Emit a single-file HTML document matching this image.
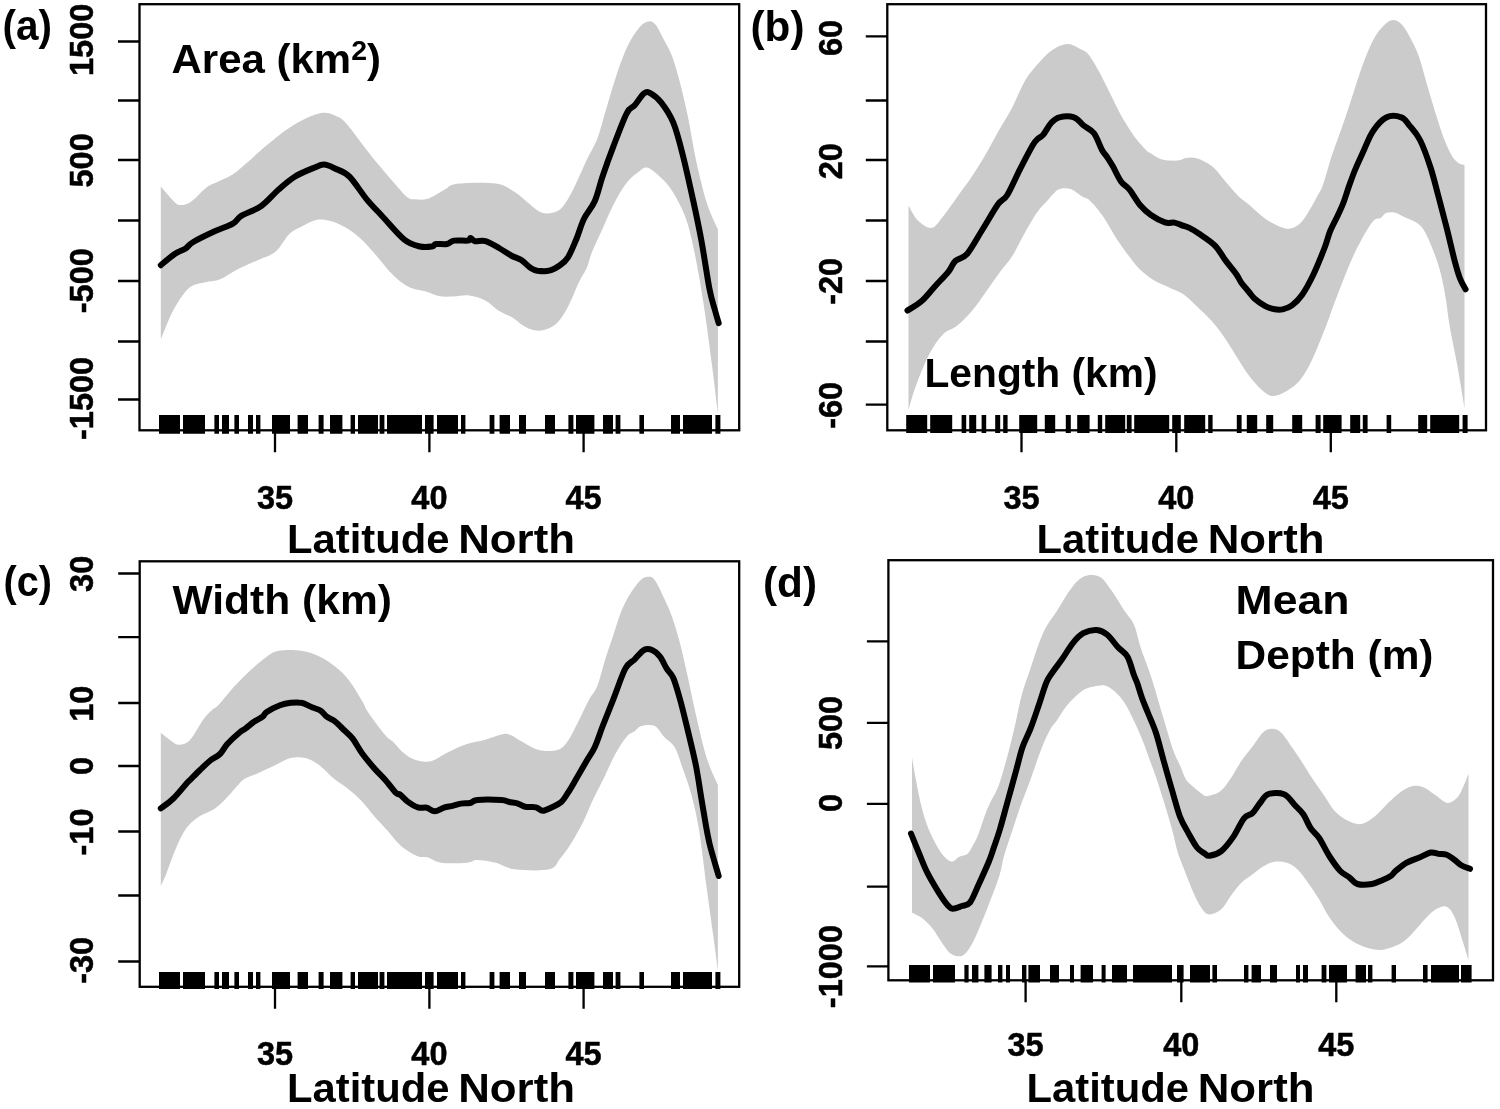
<!DOCTYPE html>
<html lang="en"><head><meta charset="utf-8"><title>GAM smooths by Latitude North</title>
<style>
html,body{margin:0;padding:0;background:#fff}
svg{display:block}
text{font-family:"Liberation Sans",sans-serif;font-weight:bold;fill:#000}
.tk{font-size:32.5px;stroke:#000;stroke-width:.5px}
.pl{font-size:43px}
.lb{font-size:39.8px}
</style></head><body>
<svg width="1500" height="1109" viewBox="0 0 1500 1109">
<rect width="1500" height="1109" fill="#fff"/>
<g id="panel-a">
<path d="M160.8 186.5C162.7 188.6 169.0 196.2 172.0 199.3C175.0 202.4 175.9 204.6 179.0 205.0C182.1 205.4 186.1 204.9 190.7 202.0C195.3 199.1 202.3 190.6 206.7 187.3C211.1 184.0 212.9 184.2 217.3 182.0C221.7 179.8 228.0 177.6 233.3 174.0C238.6 170.4 243.7 165.5 249.3 160.7C254.9 155.9 259.4 151.2 266.7 145.3C274.0 139.4 284.4 130.6 293.3 125.3C302.2 120.0 312.9 114.8 320.0 113.3C327.1 111.8 331.6 114.2 336.0 116.0C340.4 117.8 341.6 118.3 346.7 124.0C351.8 129.7 361.6 143.4 366.7 150.0C371.8 156.6 372.9 158.0 377.3 163.3C381.7 168.6 388.4 176.4 393.3 182.0C398.2 187.6 403.1 193.8 406.7 196.7C410.3 199.6 411.1 199.0 414.7 199.3C418.2 199.7 423.1 200.4 428.0 198.8C432.9 197.2 439.1 192.5 444.0 190.0C448.9 187.5 448.6 184.8 457.3 183.7C466.0 182.6 486.4 182.1 496.0 183.5C505.6 184.9 509.4 188.8 514.7 192.0C520.0 195.2 523.6 199.3 528.0 202.7C532.4 206.1 537.1 210.9 541.3 212.5C545.5 214.1 549.7 213.5 553.3 212.5C556.9 211.5 559.4 210.6 562.7 206.7C566.0 202.8 569.3 197.1 573.3 189.3C577.3 181.5 582.7 168.4 586.7 160.0C590.7 151.6 594.2 146.7 597.3 138.7C600.4 130.7 602.6 120.9 605.3 112.0C608.0 103.1 610.6 93.8 613.3 85.3C616.0 76.8 618.6 68.4 621.3 61.3C624.0 54.2 626.2 48.5 629.3 42.7C632.4 36.9 636.7 30.3 640.0 26.7C643.3 23.1 646.6 21.5 649.3 21.3C652.0 21.1 653.5 22.2 656.0 25.3C658.5 28.4 661.3 34.9 664.0 40.0C666.7 45.1 669.3 48.9 672.0 56.0C674.7 63.1 677.3 72.5 680.0 82.7C682.7 92.9 685.3 104.4 688.0 117.3C690.7 130.2 692.9 145.8 696.0 160.0C699.1 174.2 703.1 191.1 706.7 202.7C710.4 214.2 716.0 224.9 717.9 229.3L717.9 413.3C716.9 405.3 714.3 383.1 712.0 365.3C709.7 347.5 706.7 324.2 704.0 306.7C701.3 289.1 698.7 273.6 696.0 260.0C693.3 246.4 690.7 234.2 688.0 225.0C685.3 215.8 683.1 211.4 680.0 205.0C676.9 198.6 673.3 192.0 669.3 186.7C665.3 181.4 659.8 176.5 656.0 173.3C652.2 170.1 649.4 167.9 646.7 167.5C644.0 167.1 643.3 168.2 640.0 170.7C636.7 173.2 631.2 177.0 626.7 182.7C622.2 188.4 617.4 197.1 613.3 205.0C609.2 212.9 605.5 222.2 602.0 230.0C598.5 237.8 594.5 245.7 592.0 252.0C589.5 258.3 588.9 262.9 586.7 268.0C584.5 273.1 581.8 276.2 578.7 282.7C575.6 289.1 571.6 300.0 568.0 306.7C564.4 313.4 561.3 318.8 557.3 322.7C553.3 326.6 548.0 328.9 544.0 330.1C540.0 331.3 536.8 330.9 533.3 330.1C529.8 329.3 526.2 327.4 522.7 325.3C519.2 323.2 516.0 319.7 512.0 317.3C508.0 314.9 503.1 313.5 498.7 310.7C494.2 307.9 490.2 303.0 485.3 300.5C480.4 298.0 474.6 296.2 469.3 295.5C464.0 294.8 458.4 296.4 453.3 296.5C448.2 296.6 443.4 296.9 438.7 296.0C434.0 295.1 430.2 292.8 425.3 291.3C420.4 289.9 414.6 290.0 409.3 287.3C404.0 284.6 398.6 280.4 393.3 275.3C388.0 270.2 382.6 262.7 377.3 256.7C372.0 250.7 366.6 244.2 361.3 239.3C356.0 234.4 350.6 230.4 345.3 227.3C340.0 224.2 334.2 221.9 329.3 220.7C324.4 219.5 320.4 219.0 316.0 219.9C311.6 220.8 307.1 223.7 302.7 226.0C298.2 228.3 293.8 229.8 289.3 234.0C284.9 238.2 280.9 247.1 276.0 251.3C271.1 255.5 266.2 256.4 260.0 259.3C253.8 262.2 245.4 265.4 238.7 268.7C232.0 272.0 225.3 277.1 220.0 279.3C214.7 281.5 211.4 280.9 206.7 282.0C202.0 283.1 196.0 283.8 192.0 286.0C188.0 288.2 186.0 290.9 182.7 295.3C179.4 299.8 175.7 305.4 172.0 312.7C168.3 320.0 162.7 334.9 160.8 339.3Z" fill="#cbcbcb"/>
<path d="M160.8 265.2C163.1 263.3 170.6 256.8 174.7 254.0C178.8 251.2 182.2 250.7 185.3 248.7C188.4 246.7 188.4 244.9 193.3 242.0C198.2 239.1 208.0 234.4 214.7 231.3C221.4 228.2 228.9 225.9 233.3 223.3C237.7 220.7 236.6 218.8 241.3 215.9C246.0 213.0 255.1 210.4 261.3 206.0C267.5 201.6 273.1 194.4 278.7 189.5C284.3 184.6 288.9 180.3 294.7 176.7C300.5 173.1 308.4 170.1 313.3 168.1C318.2 166.1 320.4 164.5 324.0 164.6C327.6 164.7 330.8 166.5 335.0 168.5C339.2 170.5 344.0 171.4 349.3 176.5C354.6 181.6 361.1 192.6 366.7 199.3C372.3 206.0 376.5 210.0 382.7 216.7C388.9 223.4 397.8 234.3 404.0 239.3C410.2 244.3 415.3 245.3 420.0 246.5C424.7 247.7 429.3 246.9 432.0 246.5C434.7 246.1 433.5 244.4 436.0 244.0C438.5 243.6 444.0 244.6 447.0 244.0C450.0 243.4 450.5 241.2 454.0 240.6C457.5 240.0 465.2 241.0 468.0 240.6C470.8 240.2 469.5 237.9 470.7 238.0C471.9 238.1 472.5 240.7 475.0 241.2C477.5 241.7 481.5 240.1 485.5 241.2C489.5 242.3 494.6 245.5 499.0 248.0C503.4 250.5 508.3 254.0 512.0 256.0C515.7 258.0 518.2 258.0 521.3 260.0C524.4 262.0 528.0 266.2 530.7 268.0C533.4 269.8 534.2 270.2 537.3 270.7C540.4 271.1 545.5 271.6 549.3 270.7C553.1 269.8 556.9 267.5 560.0 265.3C563.1 263.1 565.3 261.5 568.0 257.3C570.7 253.1 573.3 246.4 576.0 240.0C578.7 233.6 580.9 225.1 584.0 218.7C587.1 212.2 591.6 208.4 594.7 201.3C597.8 194.2 599.6 185.1 602.7 176.0C605.8 166.9 609.3 157.1 613.3 146.7C617.3 136.2 623.1 120.2 626.7 113.3C630.3 106.4 631.8 108.6 634.7 105.3C637.6 102.0 641.3 95.3 644.0 93.3C646.7 91.3 647.8 91.7 650.7 93.3C653.6 94.9 657.5 97.8 661.3 102.7C665.1 107.6 669.7 114.0 673.3 122.7C676.9 131.4 679.4 141.6 682.7 154.7C686.0 167.8 690.2 186.8 693.3 201.0C696.4 215.2 698.6 225.5 701.3 240.0C704.0 254.5 707.1 276.4 709.3 288.0C711.5 299.6 713.1 303.4 714.7 309.3C716.3 315.2 718.0 320.9 718.7 323.2" fill="none" stroke="#000" stroke-width="6.0" stroke-linejoin="round" stroke-linecap="round"/>
<path d="M159.0 415H180.0V433.7H159.0ZM183.0 415H205.0V433.7H183.0ZM214.4 415H219.0V433.7H214.4ZM222.0 415H229.0V433.7H222.0ZM234.4 415H239.0V433.7H234.4ZM248.0 415H253.0V433.7H248.0ZM256.0 415H260.4V433.7H256.0ZM272.0 415H290.0V433.7H272.0ZM297.6 415H308.0V433.7H297.6ZM318.6 415H323.6V433.7H318.6ZM330.0 415H342.4V433.7H330.0ZM350.6 415H355.0V433.7H350.6ZM358.0 415H378.0V433.7H358.0ZM379.6 415H384.4V433.7H379.6ZM387.0 415H422.0V433.7H387.0ZM425.0 415H433.6V433.7H425.0ZM437.0 415H458.0V433.7H437.0ZM461.0 415H465.4V433.7H461.0ZM489.6 415H494.4V433.7H489.6ZM499.6 415H510.0V433.7H499.6ZM519.0 415H526.0V433.7H519.0ZM545.0 415H555.0V433.7H545.0ZM568.4 415H573.4V433.7H568.4ZM576.0 415H594.4V433.7H576.0ZM603.0 415H613.0V433.7H603.0ZM615.6 415H620.4V433.7H615.6ZM639.4 415H644.0V433.7H639.4ZM671.0 415H680.0V433.7H671.0ZM683.0 415H712.0V433.7H683.0ZM715.4 415H720.4V433.7H715.4Z" fill="#000"/>
<rect x="139.5" y="4.2" width="599.7" height="426.1" fill="none" stroke="#000" stroke-width="2.3"/>
<path d="M139.5 41.5h-21.5M139.5 100.5h-21.5M139.5 160h-21.5M139.5 220.5h-21.5M139.5 281h-21.5M139.5 341.5h-21.5M139.5 399.5h-21.5M275 430.3v22M429.4 430.3v22M583.6 430.3v22" stroke="#000" stroke-width="2.3" fill="none"/>
<text class="tk" transform="translate(92.5 39.8) rotate(-90)" text-anchor="middle">1500</text>
<text class="tk" transform="translate(92.5 160.4) rotate(-90)" text-anchor="middle">500</text>
<text class="tk" transform="translate(92.5 280.7) rotate(-90)" text-anchor="middle">-500</text>
<text class="tk" transform="translate(92.5 398.4) rotate(-90)" text-anchor="middle">-1500</text>
<text class="tk" x="275" y="508.9" text-anchor="middle">35</text>
<text class="tk" x="429.4" y="508.9" text-anchor="middle">40</text>
<text class="tk" x="583.6" y="508.9" text-anchor="middle">45</text>
</g>
<g id="panel-b">
<path d="M908.5 205.5C910.0 207.9 913.7 216.2 917.5 220.0C921.3 223.8 927.1 228.5 931.3 228.0C935.5 227.5 937.9 222.8 942.7 217.0C947.5 211.2 955.2 199.6 960.0 193.0C964.8 186.4 967.2 183.5 971.3 177.3C975.4 171.1 980.2 163.6 984.7 156.0C989.2 148.4 993.6 139.8 998.0 132.0C1002.4 124.2 1006.8 117.8 1011.3 109.3C1015.8 100.8 1020.5 88.6 1024.7 81.3C1028.9 74.0 1032.3 70.4 1036.7 65.3C1041.1 60.2 1046.2 54.2 1051.3 50.7C1056.4 47.2 1062.4 44.2 1067.3 44.0C1072.2 43.8 1077.1 47.5 1080.7 49.3C1084.3 51.1 1085.6 50.9 1088.7 54.7C1091.8 58.5 1095.8 65.6 1099.3 72.0C1102.8 78.4 1106.4 86.2 1110.0 93.3C1113.6 100.4 1116.7 107.6 1120.7 114.7C1124.7 121.8 1129.8 130.1 1134.0 136.0C1138.2 141.9 1143.2 147.1 1146.0 150.0C1148.8 152.9 1148.0 151.7 1150.7 153.3C1153.4 154.9 1157.5 158.3 1162.0 159.5C1166.5 160.7 1174.0 160.8 1178.0 160.5C1182.0 160.2 1182.9 158.4 1186.0 158.0C1189.1 157.6 1192.3 156.9 1196.7 158.3C1201.1 159.7 1207.6 162.7 1212.4 166.5C1217.2 170.3 1220.9 176.3 1225.3 181.3C1229.7 186.3 1234.6 192.5 1238.7 196.5C1242.8 200.5 1245.6 201.8 1250.0 205.5C1254.4 209.2 1260.3 215.2 1265.3 218.7C1270.3 222.2 1275.8 225.1 1280.0 226.7C1284.2 228.3 1287.0 229.2 1290.5 228.5C1294.0 227.8 1297.8 225.7 1301.0 222.5C1304.2 219.3 1307.4 213.5 1310.0 209.3C1312.6 205.1 1314.5 201.5 1316.7 197.3C1318.9 193.1 1320.8 191.1 1323.3 184.0C1325.8 176.9 1328.8 164.8 1332.0 155.0C1335.2 145.2 1339.2 135.6 1342.7 125.3C1346.2 115.0 1349.8 104.0 1353.3 93.3C1356.8 82.6 1360.4 70.6 1364.0 61.3C1367.6 52.0 1371.2 43.5 1374.7 37.3C1378.2 31.1 1382.2 26.9 1385.3 24.0C1388.4 21.1 1390.6 20.0 1393.3 20.0C1396.0 20.0 1398.6 21.3 1401.3 24.0C1404.0 26.7 1406.4 30.7 1409.3 36.0C1412.2 41.3 1415.6 47.3 1418.7 56.0C1421.8 64.7 1425.1 78.2 1428.0 88.0C1430.9 97.8 1433.3 106.2 1436.0 114.7C1438.7 123.2 1441.3 131.8 1444.0 138.7C1446.7 145.6 1449.5 151.9 1452.0 156.0C1454.5 160.1 1456.6 161.7 1458.7 163.2C1460.8 164.7 1463.5 164.5 1464.5 164.8L1464.5 408.0C1463.3 400.9 1459.7 378.6 1457.3 365.3C1454.9 352.0 1451.9 338.9 1450.0 328.0C1448.1 317.1 1447.3 308.2 1446.0 300.0C1444.7 291.8 1443.5 285.4 1442.0 278.7C1440.5 272.0 1438.7 266.0 1436.7 260.0C1434.7 254.0 1432.2 247.8 1430.0 242.7C1427.8 237.6 1425.5 232.6 1423.3 229.3C1421.1 226.0 1419.8 224.7 1416.7 222.7C1413.6 220.7 1408.3 219.0 1404.7 217.3C1401.1 215.6 1398.4 213.4 1395.3 212.7C1392.2 212.0 1388.4 212.2 1386.0 213.1C1383.6 214.0 1382.5 217.0 1380.7 218.0C1378.9 219.0 1377.1 218.1 1375.3 219.3C1373.5 220.5 1372.2 222.1 1370.0 225.3C1367.8 228.5 1364.9 233.4 1362.0 238.7C1359.1 244.0 1355.8 250.4 1352.7 257.3C1349.6 264.2 1346.4 272.2 1343.3 280.0C1340.2 287.8 1337.0 296.0 1334.0 304.0C1331.0 312.0 1329.0 318.7 1325.3 328.0C1321.6 337.3 1316.1 351.4 1312.0 360.0C1307.9 368.6 1304.6 374.4 1300.5 379.5C1296.4 384.6 1292.0 387.8 1287.5 390.5C1283.0 393.2 1277.4 396.0 1273.3 396.0C1269.2 396.0 1266.7 394.0 1262.7 390.7C1258.7 387.4 1253.3 381.1 1249.3 376.0C1245.3 370.9 1242.7 366.2 1238.7 360.0C1234.7 353.8 1229.8 345.1 1225.3 338.7C1220.8 332.2 1216.9 326.8 1212.0 321.3C1207.1 315.8 1200.8 310.1 1196.0 305.5C1191.2 300.9 1187.7 297.1 1183.0 294.0C1178.3 290.9 1172.9 289.3 1168.0 287.0C1163.1 284.7 1158.2 282.9 1153.5 280.0C1148.8 277.1 1143.9 273.2 1140.0 269.5C1136.1 265.8 1133.9 262.6 1130.0 257.5C1126.1 252.4 1121.2 245.8 1116.7 239.0C1112.2 232.2 1107.8 223.1 1103.3 216.7C1098.8 210.3 1093.5 204.1 1090.0 200.7C1086.5 197.3 1085.1 198.4 1082.0 196.5C1078.9 194.6 1075.2 190.4 1071.3 189.2C1067.4 188.0 1062.5 187.6 1058.5 189.5C1054.5 191.4 1050.9 196.9 1047.3 200.7C1043.7 204.5 1040.7 207.2 1037.0 212.5C1033.3 217.8 1029.2 225.2 1025.0 232.5C1020.8 239.8 1016.2 249.9 1012.0 256.5C1007.8 263.1 1004.2 266.2 1000.0 272.0C995.8 277.8 991.0 284.7 986.5 291.0C982.0 297.3 977.7 304.2 972.7 310.0C967.7 315.8 961.6 322.0 956.7 326.0C951.8 330.0 947.8 329.6 943.3 334.0C938.8 338.4 934.0 345.6 930.0 352.7C926.0 359.8 922.2 369.6 919.3 376.7C916.4 383.8 914.5 389.8 912.7 395.3C910.9 400.9 909.2 407.6 908.5 410.0Z" fill="#cbcbcb"/>
<path d="M907.5 310.5C909.9 308.9 917.4 304.8 922.0 300.7C926.6 296.6 930.8 290.9 935.3 286.0C939.8 281.1 945.4 275.5 948.7 271.3C952.0 267.1 952.2 263.9 955.3 261.0C958.4 258.1 962.8 258.9 967.3 253.7C971.8 248.4 977.4 237.7 982.5 229.5C987.6 221.3 993.9 210.1 998.0 204.3C1002.1 198.6 1003.7 200.8 1007.3 195.0C1010.9 189.2 1015.6 178.0 1019.8 169.7C1024.0 161.4 1029.7 150.5 1032.7 145.3C1035.7 140.1 1036.2 140.5 1038.0 138.7C1039.8 136.9 1041.1 137.4 1043.3 134.7C1045.5 132.0 1048.6 125.6 1051.3 122.7C1054.0 119.8 1055.5 118.2 1059.3 117.3C1063.1 116.4 1070.0 116.0 1074.0 117.3C1078.0 118.6 1080.0 122.6 1083.3 125.3C1086.6 128.0 1090.9 129.2 1094.0 133.3C1097.1 137.4 1099.8 146.0 1102.0 150.0C1104.2 154.0 1105.5 154.6 1107.3 157.3C1109.1 160.0 1110.4 162.0 1112.7 166.0C1115.0 170.0 1118.2 177.6 1121.0 181.5C1123.8 185.4 1126.3 185.7 1129.5 189.6C1132.7 193.5 1136.4 200.8 1140.0 205.0C1143.6 209.2 1146.7 212.1 1150.9 215.0C1155.1 217.9 1161.1 221.1 1165.0 222.4C1168.9 223.7 1171.6 222.1 1174.4 222.6C1177.2 223.1 1179.5 224.5 1182.0 225.4C1184.5 226.3 1186.4 226.5 1189.3 227.9C1192.2 229.3 1195.2 231.1 1199.5 234.0C1203.8 236.9 1210.7 241.2 1215.0 245.6C1219.3 250.0 1221.9 255.6 1225.5 260.4C1229.1 265.2 1233.9 270.8 1236.5 274.5C1239.1 278.2 1239.2 279.8 1241.3 282.7C1243.4 285.6 1246.8 289.3 1249.0 292.0C1251.2 294.7 1252.0 296.3 1254.7 298.7C1257.4 301.1 1262.0 304.3 1265.3 306.1C1268.6 307.9 1271.8 308.8 1274.7 309.3C1277.6 309.8 1279.8 310.0 1282.7 309.3C1285.6 308.6 1288.8 307.7 1292.0 305.3C1295.2 302.9 1298.5 300.1 1302.0 295.0C1305.5 289.9 1309.5 282.6 1313.3 274.7C1317.1 266.8 1321.9 254.7 1324.7 247.5C1327.5 240.3 1327.8 236.9 1330.0 231.5C1332.2 226.1 1335.8 219.8 1338.0 215.0C1340.2 210.2 1341.5 207.7 1343.3 203.0C1345.1 198.3 1346.8 192.5 1348.7 187.0C1350.7 181.5 1352.5 176.2 1355.0 170.0C1357.5 163.8 1361.0 156.6 1364.0 150.0C1367.0 143.4 1369.5 136.1 1373.3 130.7C1377.1 125.2 1382.0 119.5 1386.7 117.3C1391.4 115.1 1397.5 116.0 1401.3 117.3C1405.1 118.6 1406.2 121.5 1409.3 125.3C1412.4 129.1 1416.4 132.9 1420.0 140.0C1423.6 147.1 1427.6 158.4 1430.7 168.0C1433.8 177.6 1436.0 187.3 1438.7 197.3C1441.4 207.3 1444.0 217.4 1446.7 228.0C1449.4 238.6 1452.5 252.6 1454.7 261.0C1456.9 269.4 1458.2 273.8 1460.0 278.5C1461.8 283.2 1464.7 287.5 1465.6 289.3" fill="none" stroke="#000" stroke-width="6.0" stroke-linejoin="round" stroke-linecap="round"/>
<path d="M906.2 415H927.2V433H906.2ZM930.2 415H952.2V433H930.2ZM961.6 415H966.2V433H961.6ZM969.2 415H976.2V433H969.2ZM981.6 415H986.2V433H981.6ZM995.2 415H1000.2V433H995.2ZM1003.2 415H1007.6V433H1003.2ZM1019.2 415H1037.2V433H1019.2ZM1044.8 415H1055.2V433H1044.8ZM1065.8 415H1070.8V433H1065.8ZM1077.2 415H1089.6V433H1077.2ZM1097.8 415H1102.2V433H1097.8ZM1105.2 415H1125.2V433H1105.2ZM1126.8 415H1131.6V433H1126.8ZM1134.2 415H1169.2V433H1134.2ZM1172.2 415H1180.8V433H1172.2ZM1184.2 415H1205.2V433H1184.2ZM1208.2 415H1212.6V433H1208.2ZM1236.8 415H1241.6V433H1236.8ZM1246.8 415H1257.2V433H1246.8ZM1266.2 415H1273.2V433H1266.2ZM1292.2 415H1302.2V433H1292.2ZM1315.6 415H1320.6V433H1315.6ZM1323.2 415H1341.6V433H1323.2ZM1350.2 415H1360.2V433H1350.2ZM1362.8 415H1367.6V433H1362.8ZM1386.6 415H1391.2V433H1386.6ZM1418.2 415H1427.2V433H1418.2ZM1430.2 415H1459.2V433H1430.2ZM1462.6 415H1467.6V433H1462.6Z" fill="#000"/>
<rect x="887.3" y="4.2" width="598.7" height="426.1" fill="none" stroke="#000" stroke-width="2.3"/>
<path d="M887.3 36.4h-21.5M887.3 100.5h-21.5M887.3 160h-21.5M887.3 220.5h-21.5M887.3 281h-21.5M887.3 341.5h-21.5M887.3 404.7h-21.5M1021.5 430.3v22M1176.3 430.3v22M1330.8 430.3v22" stroke="#000" stroke-width="2.3" fill="none"/>
<text class="tk" transform="translate(841.5 37.9) rotate(-90)" text-anchor="middle">60</text>
<text class="tk" transform="translate(841.5 161.2) rotate(-90)" text-anchor="middle">20</text>
<text class="tk" transform="translate(841.5 281.3) rotate(-90)" text-anchor="middle">-20</text>
<text class="tk" transform="translate(841.5 405.3) rotate(-90)" text-anchor="middle">-60</text>
<text class="tk" x="1021.5" y="508.9" text-anchor="middle">35</text>
<text class="tk" x="1176.3" y="508.9" text-anchor="middle">40</text>
<text class="tk" x="1330.8" y="508.9" text-anchor="middle">45</text>
</g>
<g id="panel-c">
<path d="M160.8 732.7C162.5 734.0 168.0 738.7 171.0 740.7C174.0 742.7 175.8 744.8 179.0 744.7C182.2 744.6 185.9 744.1 190.0 739.9C194.1 735.7 199.6 724.5 203.3 719.5C207.0 714.5 209.4 712.5 212.0 710.0C214.6 707.5 214.9 708.7 218.7 704.7C222.5 700.7 229.4 691.8 234.7 686.0C240.0 680.2 245.4 674.9 250.7 670.0C256.0 665.1 262.0 659.9 266.7 656.7C271.4 653.5 272.9 651.8 278.7 650.8C284.5 649.8 294.4 649.8 301.3 650.8C308.2 651.8 314.2 654.0 320.0 656.7C325.8 659.5 331.1 663.3 336.0 667.3C340.9 671.3 344.9 674.9 349.3 680.7C353.8 686.5 359.8 697.1 362.7 702.0C365.6 706.9 364.6 706.7 366.7 710.0C368.8 713.3 371.7 717.5 375.0 722.0C378.3 726.5 383.6 733.4 386.7 736.7C389.8 740.0 391.1 739.9 393.3 742.0C395.5 744.1 397.4 747.0 400.0 749.5C402.6 752.0 405.3 754.7 408.7 756.7C412.1 758.7 416.5 760.6 420.5 761.3C424.5 762.0 428.1 762.1 432.5 760.7C436.9 759.3 441.2 755.5 447.0 752.7C452.8 749.9 460.8 746.1 467.0 744.0C473.2 741.9 478.8 741.5 484.5 739.9C490.2 738.3 497.2 735.4 501.3 734.5C505.4 733.6 505.7 733.2 509.3 734.5C512.9 735.8 517.8 739.4 522.7 742.0C527.6 744.6 532.9 748.7 538.7 750.0C544.5 751.3 552.4 751.5 557.3 750.0C562.2 748.5 564.4 745.6 568.0 740.7C571.6 735.8 575.2 727.6 578.7 720.7C582.2 713.8 586.2 705.1 589.3 699.3C592.4 693.5 594.6 692.7 597.3 686.0C600.0 679.3 602.6 667.8 605.3 659.3C608.0 650.8 610.6 643.3 613.3 635.3C616.0 627.3 618.6 618.0 621.3 611.3C624.0 604.6 626.2 600.4 629.3 595.3C632.4 590.2 636.9 583.8 640.0 580.7C643.1 577.6 645.5 576.8 648.0 576.7C650.5 576.6 652.0 576.4 654.7 579.9C657.4 583.4 661.1 591.9 664.0 598.0C666.9 604.1 669.3 609.2 672.0 616.7C674.7 624.2 677.3 633.1 680.0 643.3C682.7 653.5 685.3 666.0 688.0 678.0C690.7 690.0 692.9 702.0 696.0 715.3C699.1 728.6 703.1 746.4 706.7 758.0C710.4 769.6 716.0 780.5 717.9 785.0L717.9 970.7C717.1 964.9 715.2 949.8 713.3 936.0C711.4 922.2 709.1 906.0 706.7 888.0C704.3 870.0 701.4 844.0 698.7 828.0C696.0 812.0 693.4 802.2 690.7 792.3C688.0 782.4 685.4 775.9 682.7 768.4C680.0 760.9 677.8 752.6 674.7 747.3C671.6 742.0 667.3 740.2 664.0 736.7C660.7 733.2 658.5 727.8 654.7 726.0C650.9 724.2 644.6 725.1 641.3 726.0C638.0 726.9 637.1 729.5 634.7 731.3C632.3 733.1 629.8 733.1 626.7 736.7C623.6 740.3 619.8 745.9 616.0 752.7C612.2 759.5 607.8 770.0 604.0 777.7C600.2 785.4 596.9 791.5 593.3 799.0C589.7 806.5 586.4 815.5 582.6 823.0C578.8 830.5 574.5 838.0 570.7 844.0C566.9 850.0 563.6 854.5 560.0 858.7C556.4 862.9 556.8 867.5 549.3 869.3C541.8 871.1 523.6 870.4 514.7 869.3C505.8 868.2 502.2 864.2 496.0 862.7C489.8 861.2 482.2 860.0 477.3 860.0C472.4 860.0 472.7 862.2 466.7 862.7C460.7 863.2 447.8 863.7 441.3 862.8C434.9 861.9 432.1 858.6 428.0 857.5C423.9 856.4 421.5 857.9 417.0 856.0C412.5 854.1 405.8 850.1 401.0 846.0C396.2 841.9 392.4 836.2 388.0 831.3C383.6 826.4 379.1 821.8 374.7 816.7C370.2 811.6 365.8 805.4 361.3 800.7C356.9 796.0 352.4 792.3 348.0 788.7C343.6 785.1 339.6 783.3 334.7 779.3C329.8 775.3 323.6 768.2 318.7 764.7C313.8 761.2 310.0 759.1 305.3 758.0C300.6 756.9 294.7 757.3 290.7 758.0C286.7 758.7 284.6 760.5 281.3 762.0C278.0 763.5 274.7 765.4 270.7 767.3C266.7 769.2 261.8 771.5 257.3 773.5C252.9 775.5 247.6 777.0 244.0 779.3C240.4 781.6 239.1 784.0 236.0 787.3C232.9 790.6 228.9 795.7 225.3 799.3C221.8 802.9 218.7 806.0 214.7 808.7C210.7 811.4 205.3 812.9 201.3 815.3C197.3 817.7 193.8 820.2 190.7 823.3C187.6 826.4 185.4 829.3 182.7 834.0C180.0 838.7 177.4 844.8 174.7 851.3C172.0 857.8 169.0 866.9 166.7 872.7C164.4 878.5 161.8 883.8 160.8 886.0Z" fill="#cbcbcb"/>
<path d="M160.8 808.4C162.9 806.8 169.0 802.7 173.3 798.5C177.6 794.3 183.8 786.5 186.7 783.3C189.6 780.1 188.5 781.5 190.7 779.3C192.9 777.1 196.8 773.1 200.0 770.0C203.2 766.9 206.7 763.4 210.0 760.7C213.3 758.0 217.1 756.8 220.0 754.0C222.9 751.2 224.1 747.5 227.3 744.0C230.5 740.5 236.3 735.2 239.3 732.7C242.3 730.2 242.9 730.5 245.3 728.7C247.8 726.9 251.1 723.7 254.0 721.7C256.9 719.7 260.6 718.3 262.7 716.7C264.8 715.1 263.8 713.9 266.7 712.0C269.6 710.1 276.0 706.7 280.0 705.2C284.0 703.7 287.1 703.2 290.7 702.8C294.2 702.4 297.8 702.0 301.3 702.8C304.9 703.5 308.8 706.0 312.0 707.3C315.2 708.6 318.2 709.1 320.7 710.7C323.1 712.3 324.5 715.0 326.7 716.7C328.9 718.4 331.1 718.5 334.0 720.7C336.9 722.9 340.9 727.0 344.0 730.0C347.1 733.0 349.7 734.8 352.7 738.7C355.7 742.6 358.4 748.4 362.0 753.3C365.6 758.2 370.1 763.5 374.0 768.0C377.9 772.5 381.6 775.8 385.3 780.0C389.0 784.2 393.6 790.6 396.0 793.0C398.4 795.4 398.1 793.1 400.0 794.5C401.9 795.9 404.3 799.1 407.3 801.3C410.3 803.4 414.8 806.3 418.0 807.4C421.2 808.5 423.9 807.1 426.7 807.7C429.5 808.4 431.8 811.3 434.7 811.3C437.6 811.3 441.0 808.5 444.0 807.6C447.0 806.7 449.9 806.5 452.7 805.8C455.5 805.1 457.8 804.1 460.7 803.6C463.6 803.1 467.2 803.6 470.0 803.0C472.8 802.4 472.1 800.5 477.3 800.0C482.5 799.5 496.0 799.7 501.3 800.0C506.6 800.3 506.6 801.5 509.3 802.0C512.0 802.5 514.6 802.5 517.3 803.3C520.0 804.1 522.2 806.1 525.3 806.8C528.4 807.5 533.1 806.6 536.0 807.3C538.9 808.0 540.0 810.8 542.7 810.8C545.4 810.8 548.9 808.8 552.0 807.3C555.1 805.8 558.6 804.4 561.3 802.0C564.0 799.6 565.5 796.5 568.0 792.7C570.5 788.9 572.9 784.6 576.0 779.3C579.1 774.0 583.6 766.0 586.7 760.7C589.8 755.4 592.0 753.1 594.7 747.3C597.4 741.5 599.6 734.0 602.7 726.0C605.8 718.0 609.5 708.8 613.3 699.3C617.1 689.8 621.7 675.4 625.3 668.7C628.9 662.0 631.6 662.4 634.7 659.3C637.8 656.2 641.1 651.5 644.0 650.0C646.9 648.5 649.3 648.9 652.0 650.0C654.7 651.1 657.5 653.6 660.0 656.7C662.5 659.8 664.5 665.2 666.7 668.7C668.9 672.2 671.1 672.9 673.3 678.0C675.5 683.1 677.5 690.4 680.0 699.3C682.5 708.2 685.3 720.2 688.0 731.3C690.7 742.4 693.8 754.9 696.0 766.0C698.2 777.1 699.6 788.0 701.3 798.0C703.0 808.0 704.7 818.5 706.0 826.0C707.3 833.5 708.0 837.0 709.3 842.7C710.6 848.4 712.4 854.5 714.0 860.0C715.6 865.5 717.9 873.3 718.7 876.0" fill="none" stroke="#000" stroke-width="6.0" stroke-linejoin="round" stroke-linecap="round"/>
<path d="M159.0 972H180.0V989H159.0ZM183.0 972H205.0V989H183.0ZM214.4 972H219.0V989H214.4ZM222.0 972H229.0V989H222.0ZM234.4 972H239.0V989H234.4ZM248.0 972H253.0V989H248.0ZM256.0 972H260.4V989H256.0ZM272.0 972H290.0V989H272.0ZM297.6 972H308.0V989H297.6ZM318.6 972H323.6V989H318.6ZM330.0 972H342.4V989H330.0ZM350.6 972H355.0V989H350.6ZM358.0 972H378.0V989H358.0ZM379.6 972H384.4V989H379.6ZM387.0 972H422.0V989H387.0ZM425.0 972H433.6V989H425.0ZM437.0 972H458.0V989H437.0ZM461.0 972H465.4V989H461.0ZM489.6 972H494.4V989H489.6ZM499.6 972H510.0V989H499.6ZM519.0 972H526.0V989H519.0ZM545.0 972H555.0V989H545.0ZM568.4 972H573.4V989H568.4ZM576.0 972H594.4V989H576.0ZM603.0 972H613.0V989H603.0ZM615.6 972H620.4V989H615.6ZM639.4 972H644.0V989H639.4ZM671.0 972H680.0V989H671.0ZM683.0 972H712.0V989H683.0ZM715.4 972H720.4V989H715.4Z" fill="#000"/>
<rect x="139.7" y="561.3" width="599.5" height="425.5" fill="none" stroke="#000" stroke-width="2.3"/>
<path d="M139.7 573.5h-21.5M139.7 637.2h-21.5M139.7 703h-21.5M139.7 766h-21.5M139.7 831.5h-21.5M139.7 895.5h-21.5M139.7 961.5h-21.5M275 986.8v22M429.4 986.8v22M583.6 986.8v22" stroke="#000" stroke-width="2.3" fill="none"/>
<text class="tk" transform="translate(92.5 573.8) rotate(-90)" text-anchor="middle">30</text>
<text class="tk" transform="translate(92.5 703.7) rotate(-90)" text-anchor="middle">10</text>
<text class="tk" transform="translate(92.5 766) rotate(-90)" text-anchor="middle">0</text>
<text class="tk" transform="translate(92.5 832) rotate(-90)" text-anchor="middle">-10</text>
<text class="tk" transform="translate(92.5 960.3) rotate(-90)" text-anchor="middle">-30</text>
<text class="tk" x="275" y="1065.4" text-anchor="middle">35</text>
<text class="tk" x="429.4" y="1065.4" text-anchor="middle">40</text>
<text class="tk" x="583.6" y="1065.4" text-anchor="middle">45</text>
</g>
<g id="panel-d">
<path d="M912.0 757.0C912.5 760.3 913.8 769.0 915.3 776.7C916.8 784.4 918.9 795.8 920.7 803.3C922.5 810.8 924.0 816.2 926.0 822.0C928.0 827.8 930.0 832.7 932.7 838.0C935.4 843.3 938.9 850.1 942.0 854.0C945.1 857.9 948.4 861.0 951.3 861.5C954.2 862.0 956.6 858.0 959.3 856.7C962.0 855.5 965.1 855.8 967.3 854.0C969.5 852.2 970.9 848.8 972.7 845.7C974.5 842.6 976.0 840.4 978.0 835.3C980.0 830.2 983.0 820.4 985.0 815.0C987.0 809.6 987.8 807.8 990.0 803.0C992.2 798.2 995.8 793.2 998.5 786.0C1001.2 778.8 1003.8 769.2 1006.5 759.5C1009.2 749.8 1011.9 738.4 1014.5 727.5C1017.1 716.6 1019.4 703.6 1022.0 694.0C1024.6 684.4 1027.3 678.0 1030.0 670.0C1032.7 662.0 1035.3 653.1 1038.0 646.0C1040.7 638.9 1042.9 633.1 1046.0 627.3C1049.1 621.5 1052.7 617.5 1056.7 611.3C1060.7 605.1 1065.6 595.8 1070.0 590.0C1074.4 584.2 1078.4 578.9 1083.3 576.7C1088.2 574.5 1094.8 574.4 1099.5 576.7C1104.2 579.0 1107.2 584.7 1111.5 590.5C1115.8 596.3 1121.2 605.8 1125.0 611.5C1128.8 617.2 1131.3 618.5 1134.0 624.7C1136.7 630.9 1138.1 639.6 1141.0 648.5C1143.9 657.4 1147.7 666.1 1151.5 678.0C1155.3 689.9 1160.3 707.8 1164.0 720.0C1167.7 732.2 1170.7 743.2 1173.5 751.0C1176.3 758.8 1178.6 762.2 1180.7 767.0C1182.8 771.8 1183.9 776.2 1186.0 779.5C1188.1 782.8 1190.8 784.6 1193.5 787.0C1196.2 789.4 1199.7 792.5 1202.0 794.0C1204.3 795.5 1204.5 796.5 1207.5 796.0C1210.5 795.5 1216.4 794.3 1220.3 791.3C1224.2 788.3 1227.5 783.1 1231.0 778.0C1234.5 772.9 1238.0 765.8 1241.5 760.7C1245.0 755.6 1248.5 752.0 1252.0 747.3C1255.5 742.6 1259.4 735.8 1262.7 732.7C1266.0 729.6 1268.9 728.7 1272.0 728.7C1275.1 728.7 1278.0 729.6 1281.3 732.7C1284.6 735.8 1288.4 742.2 1292.0 747.3C1295.6 752.4 1299.4 758.2 1302.7 763.3C1306.0 768.4 1308.5 772.7 1312.0 778.0C1315.5 783.3 1320.2 789.8 1324.0 795.3C1327.8 800.8 1330.7 806.8 1334.7 811.0C1338.7 815.2 1343.6 818.6 1348.0 820.8C1352.4 823.0 1356.8 824.7 1361.3 824.0C1365.8 823.3 1370.2 820.1 1374.7 816.6C1379.2 813.1 1383.6 807.2 1388.0 803.0C1392.4 798.8 1397.1 794.2 1401.3 791.4C1405.5 788.6 1409.2 786.7 1413.0 786.0C1416.8 785.3 1420.2 785.8 1424.0 787.4C1427.8 789.0 1432.1 793.0 1436.0 795.6C1439.9 798.2 1443.8 802.7 1447.3 803.0C1450.8 803.3 1454.5 800.6 1457.3 797.6C1460.1 794.6 1462.1 789.0 1464.0 785.0C1465.9 781.0 1467.8 775.3 1468.5 773.4L1468.5 960.0C1467.5 956.9 1465.0 948.4 1462.7 941.3C1460.4 934.2 1457.4 923.1 1454.7 917.3C1452.0 911.5 1449.8 908.0 1446.7 906.7C1443.6 905.4 1439.6 907.3 1436.0 909.3C1432.4 911.3 1428.8 915.1 1425.3 918.7C1421.8 922.3 1418.2 926.9 1414.7 930.7C1411.2 934.5 1407.6 938.6 1404.0 941.3C1400.4 944.0 1397.3 945.3 1393.3 946.7C1389.3 948.1 1384.9 949.9 1380.0 949.9C1375.1 949.9 1368.9 948.4 1364.0 946.7C1359.1 945.1 1354.7 942.7 1350.7 940.0C1346.7 937.3 1343.6 934.5 1340.0 930.7C1336.4 926.9 1332.8 922.6 1329.3 917.3C1325.8 912.0 1322.2 904.5 1318.7 898.7C1315.2 892.9 1311.6 887.6 1308.0 882.7C1304.4 877.8 1300.8 872.6 1297.3 869.3C1293.8 866.0 1290.7 863.9 1286.7 862.7C1282.7 861.5 1277.3 861.2 1273.3 861.9C1269.3 862.6 1266.2 864.6 1262.7 866.7C1259.2 868.8 1255.6 872.0 1252.0 874.7C1248.4 877.4 1244.8 879.2 1241.3 882.7C1237.8 886.2 1234.0 891.6 1230.7 896.0C1227.4 900.4 1224.9 906.2 1221.3 909.3C1217.7 912.4 1212.5 914.6 1209.3 914.5C1206.1 914.4 1204.5 912.1 1202.0 908.7C1199.5 905.3 1197.1 900.9 1194.0 894.0C1190.9 887.1 1186.1 874.5 1183.3 867.3C1180.5 860.1 1179.1 856.8 1177.3 850.7C1175.5 844.7 1174.7 839.1 1172.5 831.0C1170.3 822.9 1166.8 811.0 1164.0 802.0C1161.2 793.0 1158.2 783.7 1156.0 777.0C1153.8 770.3 1152.8 768.3 1150.5 762.0C1148.2 755.7 1144.8 745.8 1142.0 739.0C1139.2 732.2 1136.8 726.9 1134.0 721.0C1131.2 715.1 1128.2 708.5 1125.0 703.5C1121.8 698.5 1117.9 694.3 1114.5 691.3C1111.1 688.3 1108.1 686.3 1104.7 685.5C1101.3 684.7 1097.6 685.8 1094.0 686.5C1090.4 687.2 1086.8 687.9 1083.3 690.0C1079.8 692.1 1075.9 696.1 1072.7 699.3C1069.5 702.5 1067.0 705.4 1064.3 709.0C1061.6 712.6 1059.0 717.4 1056.7 720.7C1054.4 724.0 1053.0 724.4 1050.5 729.0C1048.0 733.6 1044.8 740.1 1041.5 748.5C1038.2 756.9 1034.1 769.7 1030.5 779.5C1026.9 789.3 1023.3 798.1 1020.0 807.5C1016.7 816.9 1013.2 827.9 1010.5 836.0C1007.8 844.1 1005.9 849.3 1004.0 856.0C1002.1 862.7 1001.8 867.9 999.3 876.0C996.8 884.1 992.2 895.5 988.7 904.7C985.2 913.9 981.1 924.2 978.0 931.3C974.9 938.4 972.7 943.2 970.0 947.3C967.3 951.4 965.1 954.8 962.0 955.9C958.9 957.0 954.4 955.9 951.3 954.0C948.2 952.1 946.4 948.9 943.3 944.7C940.2 940.5 936.2 933.2 932.7 928.7C929.2 924.2 925.5 920.7 922.0 918.0C918.5 915.3 913.7 913.6 912.0 912.7Z" fill="#cbcbcb"/>
<path d="M911.0 833.5C912.4 836.9 916.6 847.5 919.3 854.0C922.0 860.5 924.2 866.5 927.3 872.7C930.4 878.9 934.7 886.0 938.0 891.3C941.3 896.6 944.8 901.8 947.3 904.7C949.8 907.6 950.2 908.5 952.7 908.7C955.2 908.9 959.1 907.0 962.0 906.0C964.9 905.0 967.3 905.8 970.0 902.5C972.7 899.2 974.9 892.8 978.0 886.0C981.1 879.2 986.0 868.5 988.7 862.0C991.4 855.5 992.1 852.5 994.0 847.0C995.9 841.5 997.7 836.8 1000.0 829.0C1002.3 821.2 1005.3 809.7 1008.0 800.0C1010.7 790.3 1013.6 779.8 1016.0 771.0C1018.4 762.2 1020.1 754.3 1022.5 747.3C1024.9 740.2 1027.8 735.6 1030.5 728.7C1033.2 721.8 1035.9 713.6 1038.5 706.0C1041.1 698.4 1043.9 688.6 1046.0 683.3C1048.1 678.0 1048.6 678.0 1051.3 674.0C1054.0 670.0 1058.4 664.4 1062.0 659.3C1065.6 654.2 1069.2 647.6 1072.7 643.3C1076.2 638.9 1079.3 635.4 1083.3 633.2C1087.3 631.0 1092.7 629.7 1096.7 630.0C1100.7 630.3 1103.8 631.9 1107.3 634.8C1110.8 637.7 1114.6 643.6 1118.0 647.3C1121.4 650.9 1124.8 652.0 1127.5 656.7C1130.2 661.4 1132.4 670.9 1134.0 675.3C1135.6 679.7 1136.0 679.5 1137.3 683.3C1138.6 687.1 1140.2 693.0 1142.0 698.0C1143.8 703.0 1145.7 707.2 1148.0 713.0C1150.3 718.8 1153.3 724.8 1156.0 733.0C1158.7 741.2 1161.3 752.5 1164.0 762.0C1166.7 771.5 1169.3 780.9 1172.0 790.0C1174.7 799.1 1177.3 809.6 1180.0 816.7C1182.7 823.8 1185.2 827.3 1188.0 832.4C1190.8 837.5 1194.2 844.0 1197.0 847.5C1199.8 851.0 1202.6 852.1 1204.7 853.5C1206.8 854.9 1206.8 856.2 1209.6 855.8C1212.4 855.3 1217.6 854.0 1221.6 850.8C1225.6 847.6 1229.9 841.8 1233.6 836.4C1237.3 831.0 1240.8 822.2 1244.0 818.3C1247.2 814.4 1249.9 815.5 1252.6 813.0C1255.3 810.5 1257.4 806.1 1260.0 803.0C1262.6 799.9 1264.0 795.8 1268.0 794.3C1272.0 792.8 1279.5 792.5 1284.0 794.3C1288.5 796.1 1291.5 801.7 1294.7 805.0C1297.9 808.3 1300.6 810.4 1303.3 814.3C1306.0 818.2 1308.0 824.3 1310.7 828.3C1313.4 832.3 1316.2 833.7 1319.3 838.3C1322.4 842.9 1325.8 850.6 1329.3 856.0C1332.8 861.4 1336.7 867.2 1340.0 870.7C1343.3 874.2 1346.4 875.1 1349.3 877.3C1352.2 879.5 1353.5 882.9 1357.3 884.0C1361.1 885.1 1367.8 884.7 1372.0 884.0C1376.2 883.3 1379.6 881.3 1382.7 880.0C1385.8 878.7 1388.5 877.5 1390.7 876.0C1392.9 874.5 1393.3 872.9 1396.0 870.7C1398.7 868.5 1402.7 864.9 1406.7 862.7C1410.7 860.5 1416.0 859.0 1420.0 857.3C1424.0 855.6 1427.6 853.1 1430.7 852.5C1433.8 851.9 1436.0 853.5 1438.7 853.9C1441.4 854.3 1444.0 853.7 1446.7 854.7C1449.4 855.7 1452.3 858.2 1454.7 860.0C1457.1 861.8 1458.8 863.8 1461.3 865.3C1463.8 866.8 1468.5 868.2 1470.0 868.8" fill="none" stroke="#000" stroke-width="6.0" stroke-linejoin="round" stroke-linecap="round"/>
<path d="M909.0 965H930.0V982.4H909.0ZM933.0 965H955.0V982.4H933.0ZM964.4 965H968.6V982.4H964.4ZM972.0 965H978.4V982.4H972.0ZM984.4 965H991.6V982.4H984.4ZM998.0 965H1002.4V982.4H998.0ZM1006.0 965H1010.0V982.4H1006.0ZM1022.0 965H1026.4V982.4H1022.0ZM1028.4 965H1040.0V982.4H1028.4ZM1050.0 965H1059.0V982.4H1050.0ZM1070.0 965H1074.0V982.4H1070.0ZM1080.6 965H1093.0V982.4H1080.6ZM1101.6 965H1105.6V982.4H1101.6ZM1112.0 965H1127.0V982.4H1112.0ZM1133.0 965H1172.0V982.4H1133.0ZM1177.0 965H1183.6V982.4H1177.0ZM1190.0 965H1210.0V982.4H1190.0ZM1212.4 965H1217.0V982.4H1212.4ZM1244.0 965H1248.4V982.4H1244.0ZM1251.6 965H1261.0V982.4H1251.6ZM1270.0 965H1277.0V982.4H1270.0ZM1296.0 965H1300.0V982.4H1296.0ZM1303.0 965H1308.0V982.4H1303.0ZM1321.6 965H1326.4V982.4H1321.6ZM1329.0 965H1347.0V982.4H1329.0ZM1355.6 965H1366.0V982.4H1355.6ZM1368.0 965H1372.4V982.4H1368.0ZM1391.6 965H1396.0V982.4H1391.6ZM1423.0 965H1427.6V982.4H1423.0ZM1431.0 965H1459.0V982.4H1431.0ZM1461.0 965H1471.6V982.4H1461.0Z" fill="#000"/>
<rect x="888.4" y="560.2" width="604.6" height="420.0999999999999" fill="none" stroke="#000" stroke-width="2.3"/>
<path d="M888.4 641.4h-21.5M888.4 722.8h-21.5M888.4 803.9h-21.5M888.4 886.7h-21.5M888.4 966.4h-21.5M1025.6 980.3v22M1181.3 980.3v22M1336.3 980.3v22" stroke="#000" stroke-width="2.3" fill="none"/>
<text class="tk" transform="translate(841.5 723) rotate(-90)" text-anchor="middle">500</text>
<text class="tk" transform="translate(841.5 803) rotate(-90)" text-anchor="middle">0</text>
<text class="tk" transform="translate(841.5 966.6) rotate(-90)" text-anchor="middle">-1000</text>
<text class="tk" x="1025.6" y="1056.3" text-anchor="middle">35</text>
<text class="tk" x="1181.3" y="1056.3" text-anchor="middle">40</text>
<text class="tk" x="1336.3" y="1056.3" text-anchor="middle">45</text>
</g>
<text class="pl" x="2.5" y="40" textLength="49.5" lengthAdjust="spacingAndGlyphs">(a)</text>
<text class="pl" x="750.5" y="41" textLength="54" lengthAdjust="spacingAndGlyphs">(b)</text>
<text class="pl" x="3.5" y="595.5" textLength="48.5" lengthAdjust="spacingAndGlyphs">(c)</text>
<text class="pl" x="763" y="597" textLength="54" lengthAdjust="spacingAndGlyphs">(d)</text>
<text class="lb" x="171.5" y="72.5" textLength="209.5" lengthAdjust="spacingAndGlyphs">Area (km<tspan dy="-13" font-size="27">2</tspan><tspan dy="13">)</tspan></text>
<text class="lb" x="924.5" y="386.8" textLength="233" lengthAdjust="spacingAndGlyphs">Length (km)</text>
<text class="lb" x="172.5" y="614" textLength="219.5" lengthAdjust="spacingAndGlyphs">Width (km)</text>
<text class="lb" x="1235.5" y="614" textLength="114" lengthAdjust="spacingAndGlyphs">Mean</text>
<text class="lb" x="1235.5" y="668.7" textLength="198" lengthAdjust="spacingAndGlyphs">Depth (m)</text>
<text class="lb" x="287.0" y="553.3" textLength="162.5" lengthAdjust="spacingAndGlyphs">Latitude</text>
<text class="lb" x="458.2" y="553.3" textLength="116.8" lengthAdjust="spacingAndGlyphs">North</text>
<text class="lb" x="1036.5" y="553.3" textLength="162.5" lengthAdjust="spacingAndGlyphs">Latitude</text>
<text class="lb" x="1207.7" y="553.3" textLength="116.8" lengthAdjust="spacingAndGlyphs">North</text>
<text class="lb" x="287.0" y="1102.3" textLength="162.5" lengthAdjust="spacingAndGlyphs">Latitude</text>
<text class="lb" x="458.2" y="1102.3" textLength="116.8" lengthAdjust="spacingAndGlyphs">North</text>
<text class="lb" x="1026.5" y="1102.3" textLength="162.5" lengthAdjust="spacingAndGlyphs">Latitude</text>
<text class="lb" x="1197.7" y="1102.3" textLength="116.8" lengthAdjust="spacingAndGlyphs">North</text>
</svg>
</body></html>
